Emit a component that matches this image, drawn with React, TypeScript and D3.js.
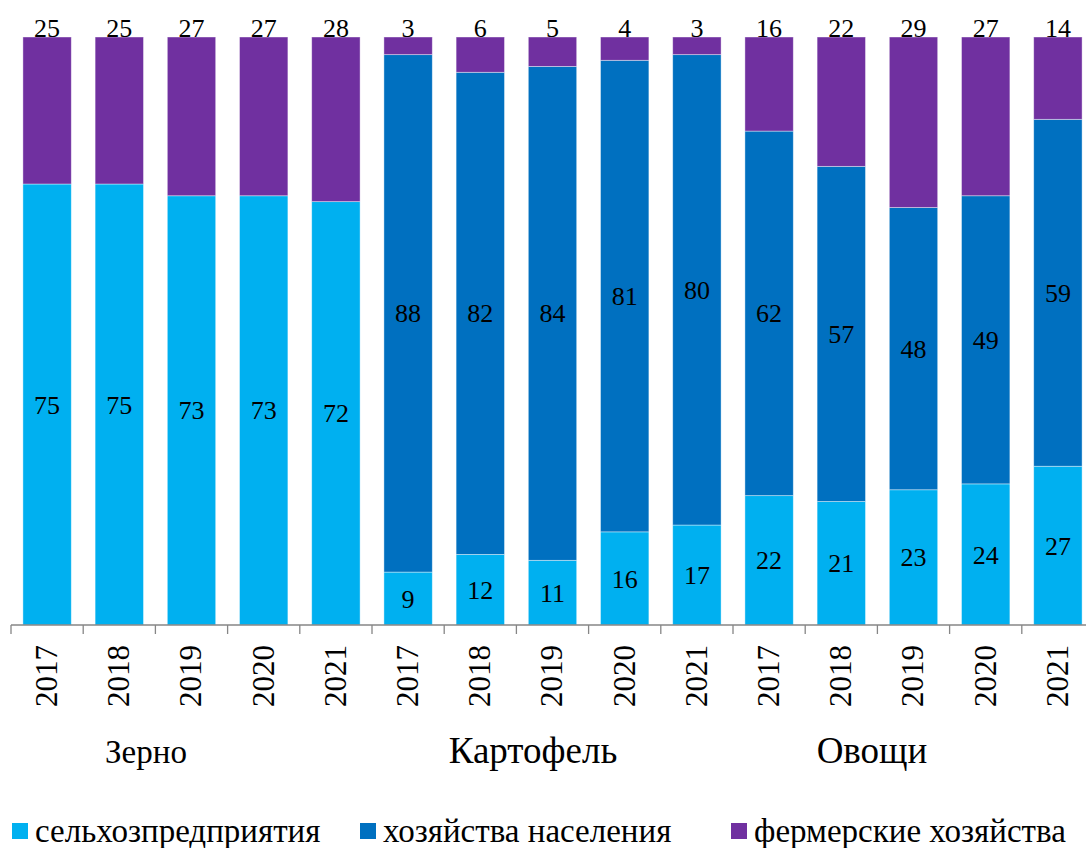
import React, { useRef, useEffect } from "react";
import * as d3 from "d3";

const years = ["2017", "2018", "2019", "2020", "2021"];
const groups = ["Зерно", "Картофель", "Овощи"];
const seriesNames = ["сельхозпредприятия", "хозяйства населения", "фермерские хозяйства"];
const colors = ["#00B0F0", "#0070C0", "#7030A0"];

// values per bar (group x year), in %
const enterprises = [75, 75, 73, 73, 72, 9, 12, 11, 16, 17, 22, 21, 23, 24, 27];
const households = [0, 0, 0, 0, 0, 88, 82, 84, 81, 80, 62, 57, 48, 49, 59];
const farms = [25, 25, 27, 27, 28, 3, 6, 5, 4, 3, 16, 22, 29, 27, 14];

const groupLabelX = [146, 533, 872];
const groupLabelSize = [33, 37, 37];
const legendX = [12, 360, 731];

const App = () => {
  const svgRef = useRef<SVGSVGElement | null>(null);

  useEffect(() => {
    const svg = d3.select(svgRef.current);
    svg.selectAll("*").remove();
    const width = 1086;
    const height = 848;

    const bars = enterprises.map((e, i) => {
      const vals = [e, households[i], farms[i]];
      const total = d3.sum(vals);
      return { i, vals, total, year: years[i % 5] };
    });

    const step = 72.2;
    const left = 11;
    const x = d3
      .scaleBand<number>()
      .domain(bars.map((d) => d.i))
      .range([left, left + step * bars.length])
      .paddingInner(0.33)
      .paddingOuter(0.165);

    const y = d3.scaleLinear().domain([0, 1]).range([625, 37]);

    const stack = d3
      .stack<any>()
      .keys([0, 1, 2] as any)
      .value((d: any, k: any) => d.vals[k] / d.total);
    const layers = stack(bars as any);

    layers.forEach((layer, k) => {
      const g = svg.append("g");
      g.selectAll("rect")
        .data(layer)
        .enter()
        .append("rect")
        .attr("x", (d: any) => x(d.data.i)!)
        .attr("y", (d: any) => y(d[1]))
        .attr("width", x.bandwidth())
        .attr("height", (d: any) => Math.max(0, y(d[0]) - y(d[1])))
        .attr("fill", colors[k])
        .attr("stroke", "#ffffff")
        .attr("stroke-opacity", 0.5)
        .attr("stroke-width", 0.8);
    });

    // value labels
    layers.forEach((layer, k) => {
      svg
        .append("g")
        .selectAll("text")
        .data(layer.filter((d: any) => d.data.vals[k] > 0))
        .enter()
        .append("text")
        .attr("x", (d: any) => x(d.data.i)! + x.bandwidth() / 2)
        .attr("y", (d: any) => (k === 2 ? y(d[1]) - 0.5 : (y(d[0]) + y(d[1])) / 2))
        .attr("dy", k === 2 ? 0 : "0.35em")
        .attr("text-anchor", "middle")
        .attr("font-size", 26)
        .attr("fill", "#000")
        .text((d: any) => d.data.vals[k]);
    });

    // axis
    const axisY = 625;
    const tickScale = d3
      .scaleLinear()
      .domain([0, bars.length])
      .range([left, left + step * bars.length]);
    svg
      .append("line")
      .attr("x1", left)
      .attr("x2", width)
      .attr("y1", axisY)
      .attr("y2", axisY)
      .attr("stroke", "#868686")
      .attr("stroke-width", 1.3);
    svg
      .append("g")
      .selectAll("line")
      .data(d3.range(bars.length + 1))
      .enter()
      .append("line")
      .attr("x1", (d) => tickScale(d))
      .attr("x2", (d) => tickScale(d))
      .attr("y1", axisY)
      .attr("y2", axisY + 9)
      .attr("stroke", "#868686")
      .attr("stroke-width", 1.3);

    // year labels
    svg
      .append("g")
      .selectAll("text")
      .data(bars)
      .enter()
      .append("text")
      .attr("transform", (d) => `translate(${tickScale(d.i + 0.5) - 1},${645}) rotate(-90)`)
      .attr("text-anchor", "end")
      .attr("dy", "0.35em")
      .attr("font-size", 31)
      .attr("fill", "#000")
      .text((d) => d.year);

    // group labels
    svg
      .append("g")
      .selectAll("text")
      .data(groups)
      .enter()
      .append("text")
      .attr("x", (d, i) => groupLabelX[i])
      .attr("y", 763)
      .attr("text-anchor", "middle")
      .attr("font-size", (d, i) => groupLabelSize[i])
      .attr("fill", "#000")
      .text((d) => d);

    // legend
    const legend = svg
      .append("g")
      .selectAll("g")
      .data(seriesNames)
      .enter()
      .append("g")
      .attr("transform", (d, i) => `translate(${legendX[i]},0)`);
    legend
      .append("rect")
      .attr("x", 0)
      .attr("y", 823)
      .attr("width", 16)
      .attr("height", 16)
      .attr("fill", (d, i) => colors[i]);
    legend
      .append("text")
      .attr("x", 23)
      .attr("y", 842)
      .attr("font-size", 33)
      .attr("fill", "#000")
      .text((d) => d);

    svg.attr("width", width).attr("height", height);
  }, []);

  return (
    <svg
      ref={svgRef}
      width={1086}
      height={848}
      fontFamily="'Times New Roman', 'Liberation Serif', serif"
      style={{ position: "absolute", left: 0, top: 0, display: "block", background: "#fff" }}
    ></svg>
  );
};

export default App;
